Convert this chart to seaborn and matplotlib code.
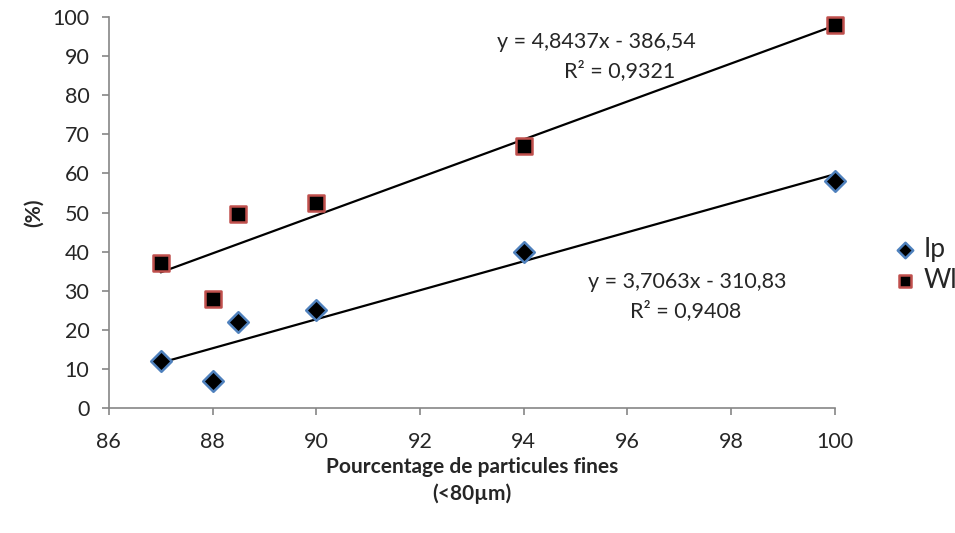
import numpy as np
import pandas as pd
import matplotlib
matplotlib.use("Agg")
import matplotlib.pyplot as plt
import seaborn as sns

# values
fines = [87, 88, 88.5, 90, 94, 100]
ip_vals = [12, 7, 22, 25, 40, 58]
wl_vals = [37, 28, 49.5, 52.5, 67, 98]

xticks = [86, 88, 90, 92, 94, 96, 98, 100]
yticks = [0, 10, 20, 30, 40, 50, 60, 70, 80, 90, 100]

sns.set_style("white")
plt.rcParams['font.family'] = ['Lato', 'DejaVu Sans']

df = pd.DataFrame({'x': fines * 2,
                   'val': ip_vals + wl_vals,
                   'serie': ['Ip'] * len(fines) + ['Wl'] * len(fines)})

fig = plt.figure(figsize=(9.55, 5.33), dpi=100)
ax = fig.add_axes([0.114, 0.2345, 0.76, 0.7335])

# trend lines
sns.regplot(x=fines, y=wl_vals, ci=None, scatter=False, ax=ax,
            line_kws={'color': 'black', 'lw': 1.6})
sns.regplot(x=fines, y=ip_vals, ci=None, scatter=False, ax=ax,
            line_kws={'color': 'black', 'lw': 1.6})

sns.scatterplot(data=df[df.serie == 'Ip'], x='x', y='val', marker='D', s=110,
                color='black', edgecolor='#4f81bd', linewidth=1.8, ax=ax,
                label='Ip', zorder=5, clip_on=False)
sns.scatterplot(data=df[df.serie == 'Wl'], x='x', y='val', marker='s', s=130,
                color='black', edgecolor='#c0504d', linewidth=1.8, ax=ax,
                label='Wl', zorder=5, clip_on=False)

ax.set_xlim(86, 100)
ax.set_ylim(0, 100)
ax.set_xticks(xticks)
ax.set_yticks(yticks)
ax.tick_params(axis='both', labelsize=15.5, length=5, width=1.2,
               direction='out', left=True, bottom=True)
ax.tick_params(axis='x', pad=12)
ax.tick_params(axis='y', pad=9)
ax.tick_params(axis='both', color='#868686')
for side in ['top', 'right']:
    ax.spines[side].set_visible(False)
for side in ['left', 'bottom']:
    ax.spines[side].set_color('#868686')
    ax.spines[side].set_linewidth(1.2)

ax.set_xlabel('Pourcentage de particules fines\n(<80µm)', fontsize=15,
              fontweight='bold', labelpad=4, linespacing=1.35)
ax.set_ylabel('(%)', fontsize=15, fontweight='bold', labelpad=6)

ax.text(95.41, 93.6, 'y = 4,8437x - 386,54', fontsize=15.5, ha='center', va='center')
ax.text(95.85, 86.4, 'R² = 0,9321', fontsize=15.5, ha='center', va='center')
ax.text(97.15, 32.2, 'y = 3,7063x - 310,83', fontsize=15.5, ha='center', va='center')
ax.text(97.13, 24.8, 'R² = 0,9408', fontsize=15.5, ha='center', va='center')

ax.legend(loc='center left', bbox_to_anchor=(1.042, 0.366), frameon=False,
          fontsize=19, handletextpad=0.1, labelspacing=0.25, markerscale=0.75,
          handlelength=1.2)

fig.savefig('out.png', dpi=100)
